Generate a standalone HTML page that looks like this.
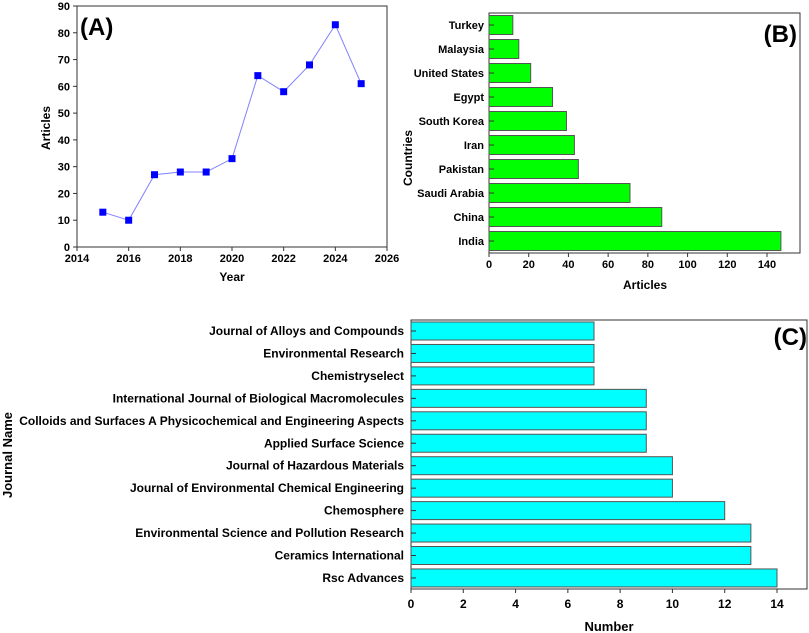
<!DOCTYPE html>
<html><head><meta charset="utf-8"><style>
body{margin:0;background:#fff}
svg{display:block;font-family:"Liberation Sans",Arial,sans-serif;font-weight:bold}
</style></head><body>
<svg id="s" width="809" height="633" viewBox="0 0 809 633"></svg>
<script>
const years=[2015,2016,2017,2018,2019,2020,2021,2022,2023,2024,2025];
const yearArticles=[13,10,27,28,28,33,64,58,68,83,61];
const aXTicks=[2014,2016,2018,2020,2022,2024,2026];
const aYTicks=[0,10,20,30,40,50,60,70,80,90];
const countries=["Turkey","Malaysia","United States","Egypt","South Korea","Iran","Pakistan","Saudi Arabia","China","India"];
const countryArticles=[12,15,21,32,39,43,45,71,87,147];
const bXTicks=[0,20,40,60,80,100,120,140];
const journals=["Journal of Alloys and Compounds","Environmental Research","Chemistryselect","International Journal of Biological Macromolecules","Colloids and Surfaces A Physicochemical and Engineering Aspects","Applied Surface Science","Journal of Hazardous Materials","Journal of Environmental Chemical Engineering","Chemosphere","Environmental Science and Pollution Research","Ceramics International","Rsc Advances"];
const journalCounts=[7,7,7,9,9,9,10,10,12,13,13,14];
const cXTicks=[0,2,4,6,8,10,12,14];

const s=document.getElementById('s');
const NS='http://www.w3.org/2000/svg';
function mk(t,a,p,txt){const e=document.createElementNS(NS,t);for(const k in a)e.setAttribute(k,a[k]);if(txt!==undefined)e.textContent=txt;(p||s).appendChild(e);return e;}

// Panel A
const gA=mk('g',{});


const ax=v=>77+(v-2014)/12*310, ay=v=>247-v/90*241;
mk('rect',{x:77,y:6,width:310,height:241,fill:'none',stroke:'#333','stroke-width':1},gA);
aXTicks.forEach(t=>{mk('line',{x1:ax(t),x2:ax(t),y1:247,y2:251,stroke:'#333'},gA);
 const l=mk('text',{x:ax(t),y:262,'font-size':11,'text-anchor':'middle'},gA,t);
 });
aYTicks.forEach(t=>{mk('line',{x1:73,x2:77,y1:ay(t),y2:ay(t),stroke:'#333'},gA);
 const l=mk('text',{x:70,y:ay(t)+4,'font-size':11,'text-anchor':'end'},gA,t);
 });
const pl=mk('polyline',{points:years.map((y,i)=>ax(y)+','+ay(yearArticles[i])).join(' '),fill:'none',stroke:'#8080ff','stroke-width':1},gA);

years.forEach((y,i)=>{const m=mk('rect',{x:ax(y)-3.5,y:ay(yearArticles[i])-3.5,width:7,height:7,fill:'#0000ff'},gA);
 });
let t=mk('text',{x:232,y:281,'font-size':12,'text-anchor':'middle'},gA,'Year');

t=mk('text',{x:0,y:0,'font-size':12,'text-anchor':'middle',transform:'translate(50,128) rotate(-90)'},gA,'Articles');

t=mk('text',{x:80,y:35,'font-size':24},gA,'(A)');


// Panel B
const gB=mk('g',{});


const bx=v=>489+v/140*278, by=i=>25+i*24;
mk('rect',{x:489,y:13,width:311,height:240,fill:'none',stroke:'#333'},gB);
countries.forEach((c,i)=>{const r=mk('rect',{x:489,y:by(i)-9.5,width:bx(countryArticles[i])-489,height:19,fill:'#00ff00',stroke:'#555','stroke-width':1},gB);
 
 mk('line',{x1:489,x2:494,y1:by(i),y2:by(i),stroke:'#333'},gB);
 const l=mk('text',{x:484,y:by(i)+4,'font-size':11,'text-anchor':'end'},gB,c);
 });
bXTicks.forEach(v=>{mk('line',{x1:bx(v),x2:bx(v),y1:253,y2:257,stroke:'#333'},gB);
 const l=mk('text',{x:bx(v),y:268,'font-size':11,'text-anchor':'middle'},gB,v);
 });
t=mk('text',{x:645,y:289,'font-size':12,'text-anchor':'middle'},gB,'Articles');

t=mk('text',{x:0,y:0,'font-size':12,'text-anchor':'middle',transform:'translate(412,158) rotate(-90)'},gB,'Countries');

t=mk('text',{x:797,y:42,'font-size':24,'text-anchor':'end'},gB,'(B)');


// Panel C
const gC=mk('g',{});


const cx=v=>411+v/14*366, cy=i=>331+i*22.45;
mk('rect',{x:411,y:320,width:396,height:269,fill:'none',stroke:'#333'},gC);
journals.forEach((j,i)=>{const r=mk('rect',{x:411,y:cy(i)-9,width:cx(journalCounts[i])-411,height:18,fill:'#00ffff',stroke:'#555','stroke-width':1},gC);
 
 mk('line',{x1:411,x2:416,y1:cy(i),y2:cy(i),stroke:'#333'},gC);
 const l=mk('text',{x:404,y:cy(i)+4,'font-size':12,'text-anchor':'end'},gC,j);
 });
cXTicks.forEach(v=>{mk('line',{x1:cx(v),x2:cx(v),y1:589,y2:593,stroke:'#333'},gC);
 const l=mk('text',{x:cx(v),y:608,'font-size':12,'text-anchor':'middle'},gC,v);
 });
t=mk('text',{x:609,y:631,'font-size':13,'text-anchor':'middle'},gC,'Number');

t=mk('text',{x:0,y:0,'font-size':13,'text-anchor':'middle',transform:'translate(12,455) rotate(-90)'},gC,'Journal Name');

t=mk('text',{x:807,y:345,'font-size':24,'text-anchor':'end'},gC,'(C)');

</script>
</body></html>
